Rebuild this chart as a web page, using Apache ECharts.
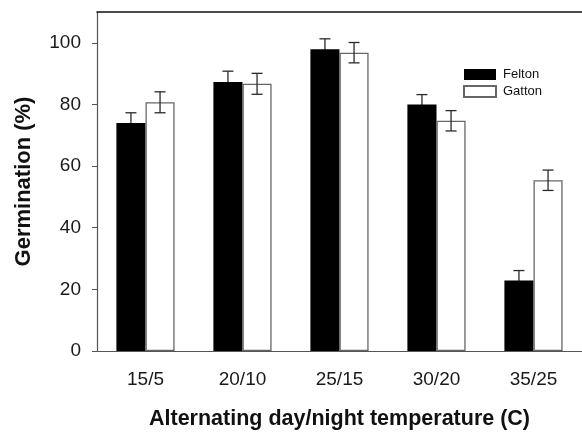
<!DOCTYPE html>
<html>
<head>
<meta charset="utf-8">
<script src="https://cdn.jsdelivr.net/npm/echarts@6/dist/echarts.min.js"></script>
<style>
  html, body { margin: 0; padding: 0; background: #fff; }
  #chart { width: 582px; height: 435px; }
</style>
</head>
<body>
<div id="chart"></div>
<script>
const categories = ['15/5', '20/10', '25/15', '30/20', '35/25']
const felton = [74.0, 87.3, 97.9, 80.0, 22.9]
const feltonErr = [3.3, 3.5, 3.4, 3.2, 3.2]
const gatton = [80.7, 86.7, 96.8, 74.7, 55.4]
const gattonErr = [3.4, 3.4, 3.3, 3.3, 3.3]
const yTicks = [0, 20, 40, 60, 80, 100]

const font = 'Arial, "Liberation Sans", sans-serif'

// error bar drawn at the bar centre; side = -1 left bar, +1 right bar
const errorBar = (vals, errs, side) => (params, api) => {
  const i = api.value(0)
  const band = api.size([1, 0])[0]
  const x = api.coord([i, 0])[0] + side * band * 0.15
  const yHi = api.coord([i, vals[i] + errs[i]])[1]
  const yLo = api.coord([i, vals[i] - errs[i]])[1]
  const cap = 5.5
  const style = { stroke: '#2a2a2a', lineWidth: 1.3 }
  return {
    type: 'group',
    children: [
      { type: 'line', shape: { x1: x, y1: yHi, x2: x, y2: yLo }, style },
      { type: 'line', shape: { x1: x - cap, y1: yHi, x2: x + cap, y2: yHi }, style },
      { type: 'line', shape: { x1: x - cap, y1: yLo, x2: x + cap, y2: yLo }, style }
    ]
  }
}

const chart = echarts.init(document.getElementById('chart'))
chart.setOption({
  animation: false,
  legend: {
    left: 463, top: 68, orient: 'vertical', padding: 0,
    itemWidth: 32, itemHeight: 11, itemGap: 4,
    textStyle: { fontFamily: font, fontSize: 13, color: '#111', padding: [0, 0, 0, 2] },
    data: [{ name: 'Felton', icon: 'rect' }, { name: 'Gatton', icon: 'rect' }]
  },
  grid: { left: 97, top: 12, width: 487, height: 341.3 },
  xAxis: [{
    type: 'category',
    data: categories,
    name: 'Alternating day/night temperature (C)',
    nameLocation: 'middle',
    nameGap: 57,
    nameTextStyle: { fontFamily: font, fontSize: 21.5, fontWeight: 'bold', color: '#111' },
    axisLine: { lineStyle: { color: '#555', width: 1.2 } },
    axisTick: { alignWithLabel: true, length: 5, lineStyle: { color: '#555' } },
    axisLabel: { fontFamily: font, fontSize: 19, color: '#1a1a1a', margin: 19 },
    splitLine: { show: false }
  }, {
    type: 'category',
    data: categories,
    position: 'top',
    axisLine: { lineStyle: { color: '#111', width: 1.5 } },
    axisTick: { show: false },
    axisLabel: { show: false }
  }],
  yAxis: {
    type: 'value',
    min: 0, max: 110, interval: 20,
    name: 'Germination (%)',
    nameLocation: 'middle',
    nameGap: 62,
    nameTextStyle: { fontFamily: font, fontSize: 22, fontWeight: 'bold', color: '#111' },
    axisLine: { show: true, lineStyle: { color: '#555', width: 1.2 } },
    axisTick: { show: true, length: 5, customValues: yTicks, lineStyle: { color: '#555' } },
    axisLabel: { fontFamily: font, fontSize: 19, color: '#1a1a1a', margin: 16, customValues: yTicks },
    splitLine: { show: false }
  },
  series: [
    {
      name: 'Felton', type: 'bar', data: felton,
      barGap: '0%', barCategoryGap: '40%', z: 3,
      itemStyle: { color: '#000' }
    },
    {
      name: 'Gatton', type: 'bar', data: gatton,
      barGap: '0%', barCategoryGap: '40%', z: 3,
      itemStyle: { color: '#fff', borderColor: '#666', borderWidth: 1.3 }
    },
    {
      type: 'custom', z: 2, silent: true,
      data: categories.map((c, i) => [i]),
      renderItem: errorBar(felton, feltonErr, -1)
    },
    {
      type: 'custom', z: 4, silent: true,
      data: categories.map((c, i) => [i]),
      renderItem: errorBar(gatton, gattonErr, 1)
    }
  ]
})
</script>
</body>
</html>
